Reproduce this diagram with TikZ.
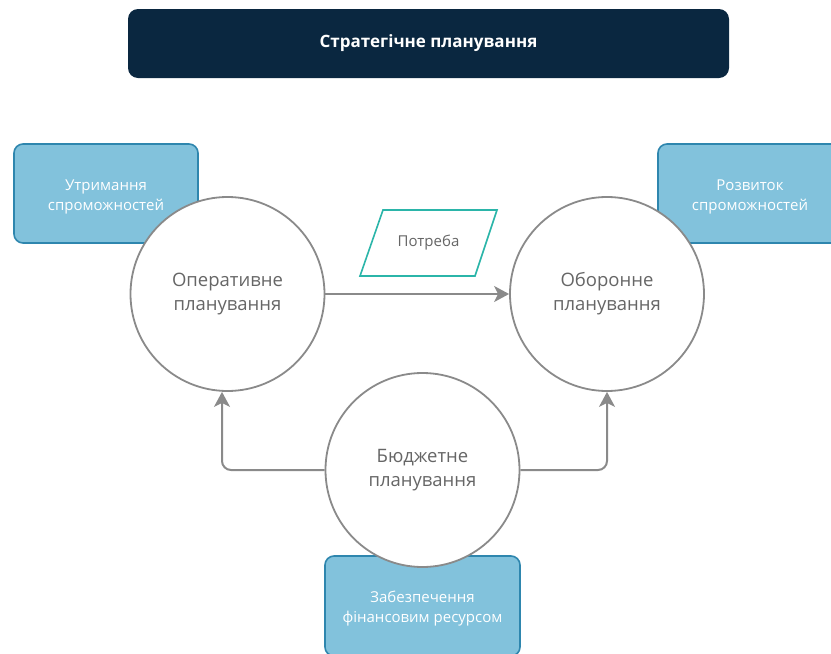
\documentclass[tikz,border=0pt]{standalone}
\usepackage{fontspec}
\setmainfont{Open Sans}
\usetikzlibrary{arrows.meta}
\definecolor{navy}{HTML}{0A2740}
\definecolor{skyfill}{HTML}{82C2DC}
\definecolor{skyline}{HTML}{2E86AE}
\definecolor{ringgray}{HTML}{8A8A8A}
\definecolor{textgray}{HTML}{666666}
\definecolor{teal}{HTML}{2BB5A9}
\begin{document}
\begin{tikzpicture}[x=1pt,y=-1pt,
  titlebox/.style={draw=none,fill=navy,rounded corners=10pt,minimum width=601pt,minimum height=69pt,
    text=white,font=\fontsize{17}{20}\selectfont\bfseries},
  capbox/.style={draw=skyline,line width=1.6pt,fill=skyfill,rounded corners=9pt,minimum width=184pt,
    minimum height=99pt},
  captext/.style={text=white,align=center,font=\fontsize{15}{20}\selectfont},
  planning/.style={circle,draw=ringgray,line width=1.8pt,fill=white,minimum size=194pt,inner sep=0pt,
    text=textgray,align=center,font=\fontsize{18.5}{24}\selectfont},
  flow/.style={draw=ringgray,line width=2pt,-{Stealth[length=15pt,width=16pt,inset=4pt]}},
]
\useasboundingbox (0,0) rectangle (831,654);
\clip (0,0) rectangle (831,654);

% heading
\node[titlebox] (strat) at (428.5,43.5) {Стратегічне планування};

% capability boxes, drawn beneath the circles
\node[capbox] (keep) at (106,193.5) {};
\node[captext] (keeptxt) at (106,197) {Утримання\\спроможностей};
\node[capbox] (grow) at (750,193.5) {};
\node[captext] (growtxt) at (750,197) {Розвиток\\спроможностей};
\node[capbox,minimum width=195pt,minimum height=100pt] (fund) at (422.5,606) {};
\node[captext] (fundtxt) at (422.5,609) {Забезпечення\\фінансовим ресурсом};

% planning levels
\node[planning] (oper) at (227.5,294) {Оперативне\\планування};
\node[planning] (def) at (607,294) {Оборонне\\планування};
\node[planning] (budget) at (422.5,470) {Бюджетне\\планування};

% need parallelogram
\draw[teal,line width=1.6pt,fill=white] (383,210) -- (497,210) -- (475,276) -- (360,276) -- cycle;
\node[text=textgray,font=\fontsize{15}{18}\selectfont] (need) at (428.5,243) {Потреба};

% flows
\draw[flow] (oper.east) -- (def.west);
\coordinate (bl) at (222,470);
\coordinate (br) at (607,470);
\draw[flow,rounded corners=9pt] (budget.west) -- (bl) -- (oper.south -| bl);
\draw[flow,rounded corners=9pt] (budget.east) -- (br) -- (def.south);
\end{tikzpicture}
\end{document}
